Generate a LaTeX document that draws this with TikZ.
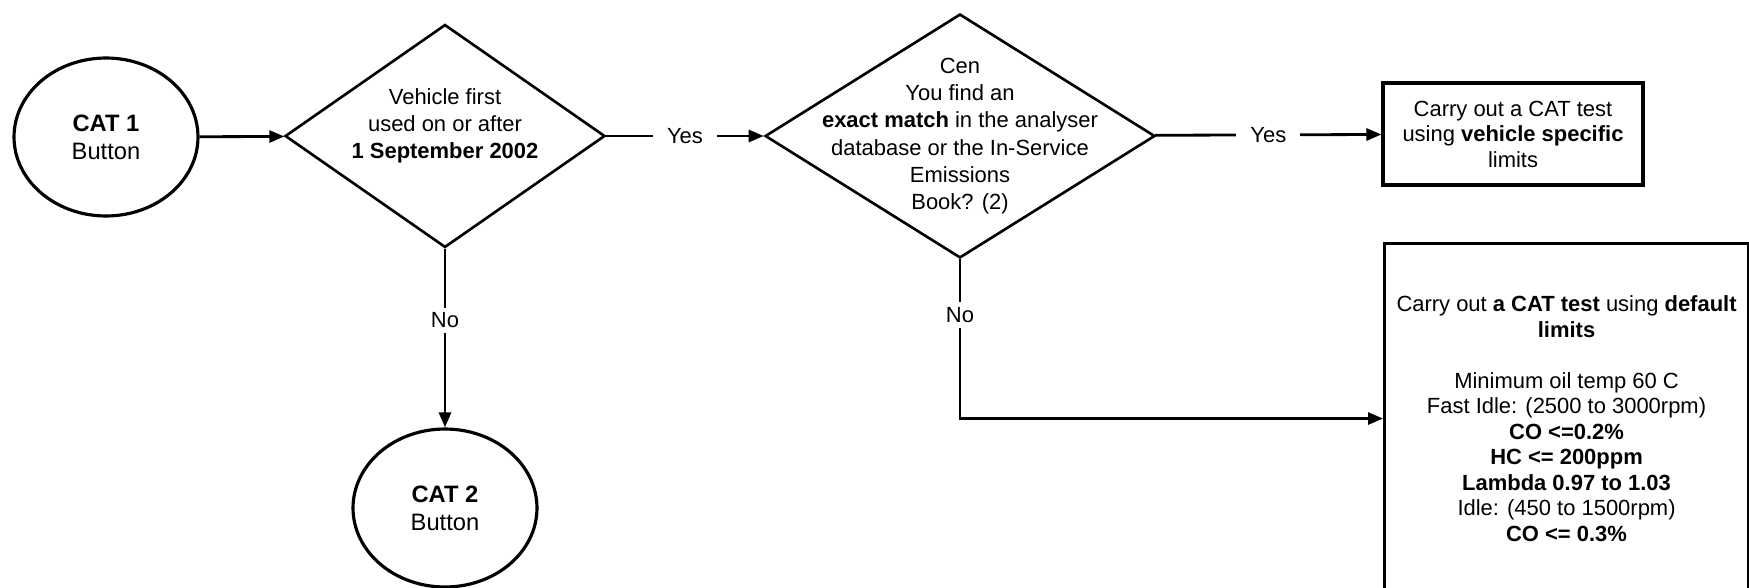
\documentclass[tikz,border=0pt]{standalone}
\usepackage{fontspec}
\setmainfont{Liberation Sans}
\usetikzlibrary{shapes.geometric,arrows.meta}

\begin{document}
\begin{tikzpicture}[x=0.02cm,y=-0.02cm,
  every node/.style={font=\fontsize{12.5}{14.5}\selectfont,align=center},
  terminal/.style={draw,ellipse,line width=1.8pt,minimum width=3.68cm,minimum height=3.16cm,inner sep=0pt,font=\fontsize{13.5}{16}\selectfont},
  decision/.style={draw,diamond,line width=1.5pt,inner sep=0pt},
  qtext/.style={font=\fontsize{12.5}{15.5}\selectfont},
  action/.style={draw,rectangle,line width=1.8pt,inner sep=0pt},
  flow/.style={-{Triangle[length=0.3cm,width=0.24cm]},line width=1.6pt},
  gap/.style={fill=white,inner xsep=0.28cm,inner ysep=0.1cm}]
\useasboundingbox (0,0) rectangle (1749,588);
\clip (0,0) rectangle (1749,588);

% start and end buttons
\node[terminal] (cat1) at (106,137) {\textbf{CAT 1}\\Button};
\node[terminal] (cat2) at (445,508) {\textbf{CAT 2}\\Button};

% questions
\node[decision,minimum width=6.4cm,minimum height=4.46cm,
  label={[qtext,yshift=0.2cm]center:{Vehicle first\\used on or after\\\textbf{1 September 2002}}}] (firstuse) at (445,136) {};
\node[decision,minimum width=7.8cm,minimum height=4.88cm,
  label={[qtext]center:{Cen\\You find an\\\textbf{exact match} in the analyser\\database or the In-Service\\Emissions\\Book? (2)}}] (match) at (960,136) {};

% outcomes
\node[action,minimum width=5.2cm,minimum height=2.04cm] (specific) at (1513,134) {Carry out a CAT test\\using \textbf{vehicle specific}\\limits};
\node[action,anchor=north west,minimum width=7.28cm,minimum height=7cm] (default) at (1383,242)
  {Carry out \textbf{a CAT test} using \textbf{default}\\\textbf{limits}\\[14.5pt]
   Minimum oil temp 60 C\\Fast Idle: (2500 to 3000rpm)\\\textbf{CO <=0.2\%}\\\textbf{HC <= 200ppm}\\
   \textbf{Lambda 0.97 to 1.03}\\Idle: (450 to 1500rpm)\\\textbf{CO <= 0.3\%}};

% connectors
\draw[flow] (cat1) -- (firstuse);
\draw[flow] (firstuse) -- node[gap]{Yes} (match);
\draw[flow] (match) -- node[gap]{Yes} (specific);
\draw[flow] (firstuse) -- node[gap,pos=0.4]{No} (cat2);
\draw[flow] (match) |- node[gap,pos=0.175]{No} (default);
\end{tikzpicture}
\end{document}
